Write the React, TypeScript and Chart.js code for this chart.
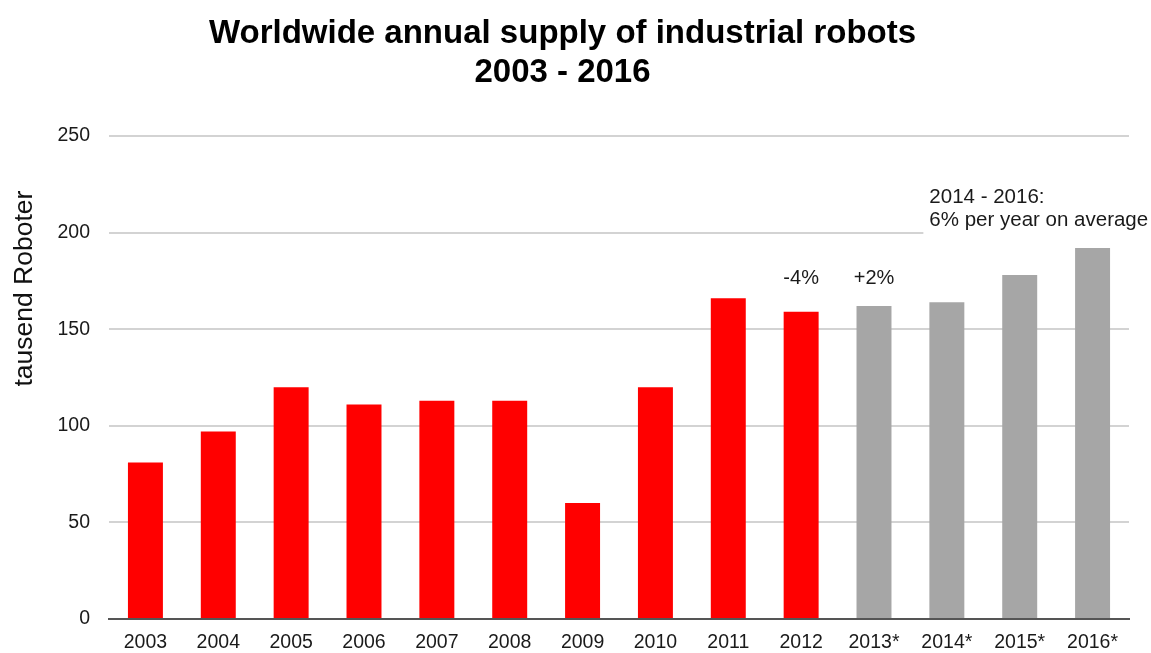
import React, { useEffect, useRef } from "react";
import { Chart, registerables } from "chart.js";

Chart.register(...registerables);

const categories = ["2003", "2004", "2005", "2006", "2007", "2008", "2009", "2010", "2011", "2012", "2013*", "2014*", "2015*", "2016*"];
const supply = [81, 97, 120, 111, 113, 113, 60, 120, 166, 159, 162, 164, 178, 192];
const isForecast = [false, false, false, false, false, false, false, false, false, false, true, true, true, true];
const yTicks = [0, 50, 100, 150, 200, 250];
const growthNotes = [
  { category: "2012", text: "-4%" },
  { category: "2013*", text: "+2%" },
];
const averageNote = ["2014 - 2016:", "6% per year on average"];
const titleLines = ["Worldwide annual supply of industrial robots", "2003 - 2016"];
const yTitle = "tausend Roboter";

const FONT = "'Liberation Sans', Arial, sans-serif";

const overlayPlugin = {
  id: "overlay",
  afterDatasetsDraw(chart: any) {
    const { ctx, chartArea, scales } = chart;
    const x = scales.x;
    const y = scales.y;
    ctx.save();
    // growth notes above bars
    ctx.fillStyle = "#1a1a1a";
    ctx.font = `20px ${FONT}`;
    ctx.textAlign = "center";
    ctx.textBaseline = "middle";
    growthNotes.forEach((n) => {
      const idx = categories.indexOf(n.category);
      ctx.fillText(n.text, x.getPixelForValue(idx), y.getPixelForValue(176));
    });
    // average note with white backdrop hiding the gridline
    const idx14 = categories.indexOf("2014*");
    const half = (x.getPixelForValue(1) - x.getPixelForValue(0)) * 0.48 / 2;
    const tx = x.getPixelForValue(idx14) - half;
    const y200 = y.getPixelForValue(200);
    ctx.fillStyle = "#ffffff";
    ctx.fillRect(tx - 6, y200 - 4, chartArea.right - tx + 10, 8);
    ctx.fillStyle = "#1a1a1a";
    ctx.textAlign = "left";
    ctx.font = `20.5px ${FONT}`;
    const ly = y.getPixelForValue(218.5);
    ctx.fillText(averageNote[0], tx, ly);
    ctx.fillText(averageNote[1], tx, ly + 23);
    // y axis title
    ctx.save();
    ctx.translate(25, y.getPixelForValue(171));
    ctx.rotate(-Math.PI / 2);
    ctx.textAlign = "center";
    ctx.font = `26.5px ${FONT}`;
    ctx.fillStyle = "#111";
    ctx.fillText(yTitle, 0, 0);
    ctx.restore();
    // main title
    ctx.font = `bold 33px ${FONT}`;
    ctx.fillStyle = "#000";
    ctx.textAlign = "center";
    ctx.textBaseline = "alphabetic";
    const cx = chart.width / 2 - 13;
    ctx.fillText(titleLines[0], cx, 43);
    ctx.fillText(titleLines[1], cx, 82);
    ctx.restore();
  },
};

export default function App() {
  const ref = useRef<HTMLCanvasElement | null>(null);
  useEffect(() => {
    if (!ref.current) return;
    const chart = new Chart(ref.current, {
      type: "bar",
      data: {
        labels: categories,
        datasets: [
          {
            data: supply,
            backgroundColor: isForecast.map((f) => (f ? "#a6a6a6" : "#ff0000")),
            barPercentage: 0.48,
            categoryPercentage: 1,
          },
        ],
      },
      options: {
        animation: false,
        responsive: true,
        maintainAspectRatio: false,
        layout: { padding: { top: 136, right: 22, left: 0, bottom: 0 } },
        plugins: { legend: { display: false }, title: { display: false }, tooltip: { enabled: false } },
        scales: {
          x: {
            grid: { display: false, drawTicks: false },
            border: { display: true, color: "#555", width: 2 },
            ticks: { color: "#1a1a1a", font: { family: FONT, size: 19.5 }, padding: 12, maxRotation: 0, autoSkip: false },
            afterFit: (s: any) => { s.height = 34; },
          },
          y: {
            min: 0,
            max: 250,
            afterBuildTicks: (s: any) => { s.ticks = yTicks.map((v) => ({ value: v })); },
            grid: { color: "#d3d3d3", lineWidth: 2, drawTicks: false },
            border: { display: false },
            ticks: { color: "#1a1a1a", font: { family: FONT, size: 19.5 }, padding: 19 },
            afterFit: (s: any) => { s.width = 109; },
          },
        },
      },
      plugins: [overlayPlugin],
    });
    return () => chart.destroy();
  }, []);
  return (
    <div style={{ position: "absolute", left: 0, top: 0, width: 1151, height: 653, background: "#fff" }}>
      <canvas ref={ref} />
    </div>
  );
}
